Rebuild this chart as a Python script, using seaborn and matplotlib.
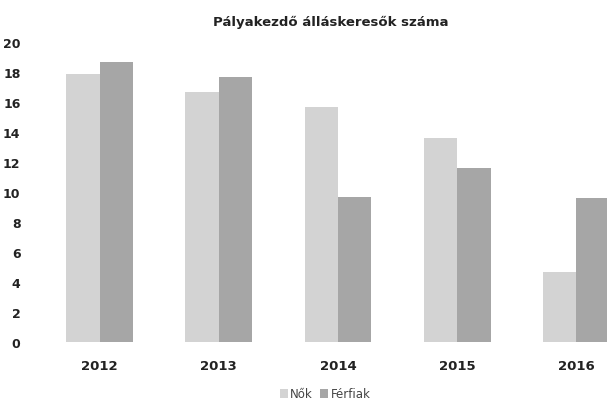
import matplotlib
matplotlib.use("Agg")
import matplotlib.pyplot as plt
import seaborn as sns
import pandas as pd

years = ["2012", "2013", "2014", "2015", "2016"]
nok = [17.9, 16.7, 15.7, 13.6, 4.7]
ferfiak = [18.7, 17.7, 9.7, 11.6, 9.6]
series_names = ["Nők", "Férfiak"]
colors = ["#d3d3d3", "#a6a6a6"]

df = pd.DataFrame({
    "ev": years * 2,
    "ertek": nok + ferfiak,
    "nem": [series_names[0]] * len(years) + [series_names[1]] * len(years),
})

sns.set_style("white")
plt.rcParams["font.family"] = ["DejaVu Sans"]

fig = plt.figure(figsize=(6.07, 4.02), dpi=100)
ax = fig.add_axes([40 / 607, 59 / 402, 596 / 607, 300 / 402])

sns.barplot(data=df, x="ev", y="ertek", hue="nem", palette=colors,
            width=0.56, gap=0, linewidth=0, ax=ax, legend=True)

ax.set_ylim(0, 20)
ax.set_xlim(-0.5, 4.5)
ax.set_yticks(range(0, 21, 2))
ax.set_xlabel("")
ax.set_ylabel("")
for s in ax.spines.values():
    s.set_visible(False)
ax.tick_params(axis="y", length=0, pad=14, labelsize=9, labelcolor="#222222")
ax.tick_params(axis="x", length=0, pad=12, labelsize=9.5, labelcolor="#222222")
for lab in ax.get_xticklabels() + ax.get_yticklabels():
    lab.set_fontweight("bold")

handles, labels = ax.get_legend_handles_labels()
ax.legend_.remove()
fig.legend(handles, labels, loc="center", bbox_to_anchor=(325 / 607, 1 - 395 / 402),
           ncol=2, frameon=False, fontsize=8.5, handlelength=0.7, handleheight=0.7,
           columnspacing=0.6, handletextpad=0.2, labelcolor="#444444")

fig.text(331 / 607, 1 - 22 / 402, "Pályakezdő álláskeresők száma",
         ha="center", va="center", fontsize=9.5, fontweight="bold", color="#222222")

fig.savefig("out.png", dpi=100)
